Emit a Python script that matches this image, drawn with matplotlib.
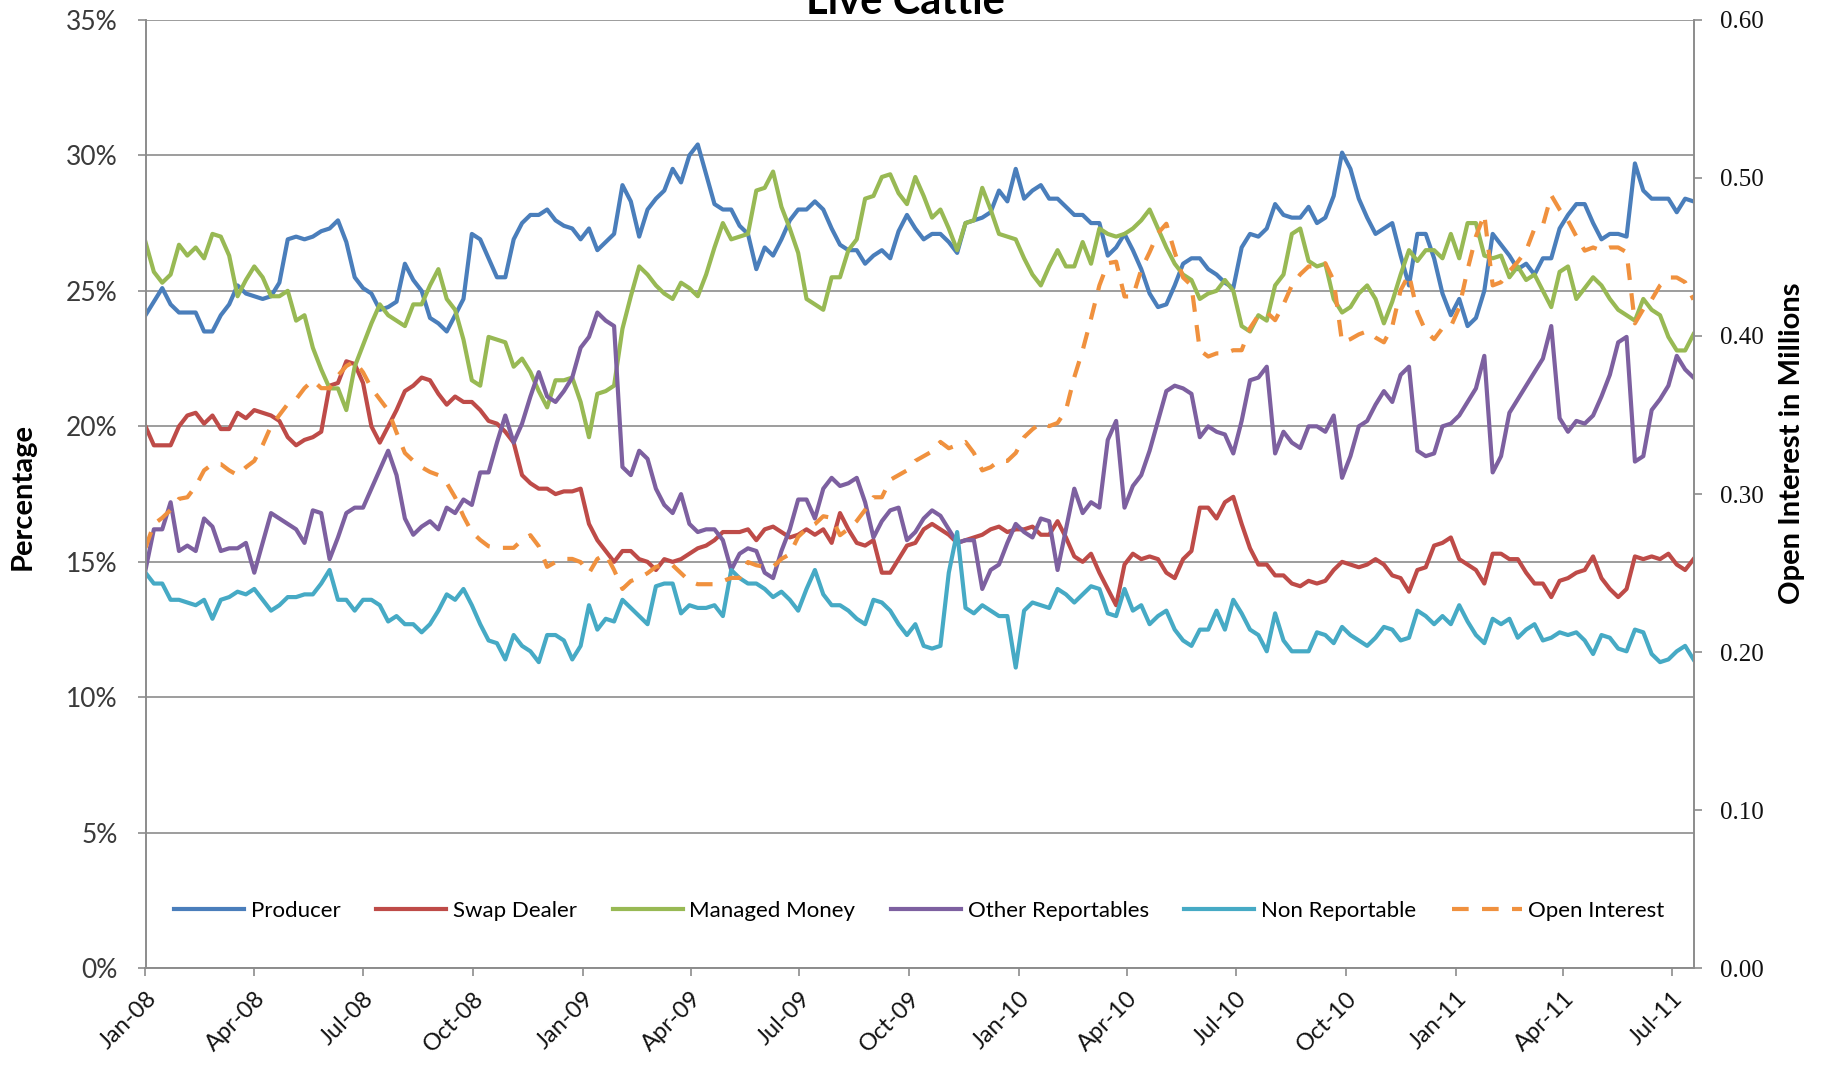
import matplotlib
matplotlib.use("Agg")
import matplotlib.pyplot as plt
import matplotlib.dates as mdates
from matplotlib.ticker import FuncFormatter, MultipleLocator
import pandas as pd

# ---------------- data (weekly, Tuesdays, from 2008-01-01) ----------------
start_date = "2008-01-01"

producer = [
    24.1, 24.6, 25.1, 24.5, 24.2, 24.2, 24.2, 23.5, 23.5, 24.1,
    24.5, 25.2, 24.9, 24.8, 24.7, 24.8, 25.3, 26.9, 27.0, 26.9,
    27.0, 27.2, 27.3, 27.6, 26.8, 25.5, 25.1, 24.9, 24.3, 24.4,
    24.6, 26.0, 25.4, 25.0, 24.0, 23.8, 23.5, 24.1, 24.7, 27.1,
    26.9, 26.2, 25.5, 25.5, 26.9, 27.5, 27.8, 27.8, 28.0, 27.6,
    27.4, 27.3, 26.9, 27.3, 26.5, 26.8, 27.1, 28.9, 28.3, 27.0,
    28.0, 28.4, 28.7, 29.5, 29.0, 30.0, 30.4, 29.3, 28.2, 28.0,
    28.0, 27.4, 27.1, 25.8, 26.6, 26.3, 26.9, 27.6, 28.0, 28.0,
    28.3, 28.0, 27.3, 26.7, 26.5, 26.5, 26.0, 26.3, 26.5, 26.2,
    27.2, 27.8, 27.3, 26.9, 27.1, 27.1, 26.8, 26.4, 27.5, 27.6,
    27.7, 27.9, 28.7, 28.3, 29.5, 28.4, 28.7, 28.9, 28.4, 28.4,
    28.1, 27.8, 27.8, 27.5, 27.5, 26.3, 26.6, 27.1, 26.5, 25.8,
    24.9, 24.4, 24.5, 25.2, 26.0, 26.2, 26.2, 25.8, 25.6, 25.3,
    25.1, 26.6, 27.1, 27.0, 27.3, 28.2, 27.8, 27.7, 27.7, 28.1,
    27.5, 27.7, 28.5, 30.1, 29.5, 28.4, 27.7, 27.1, 27.3, 27.5,
    26.3, 25.2, 27.1, 27.1, 26.2, 24.9, 24.1, 24.7, 23.7, 24.0,
    25.0, 27.1, 26.7, 26.3, 25.8, 26.0, 25.6, 26.2, 26.2, 27.3,
    27.8, 28.2, 28.2, 27.5, 26.9, 27.1, 27.1, 27.0, 29.7, 28.7,
    28.4, 28.4, 28.4, 27.9, 28.4, 28.3,
]

swap_dealer = [
    20.0, 19.3, 19.3, 19.3, 20.0, 20.4, 20.5, 20.1, 20.4, 19.9,
    19.9, 20.5, 20.3, 20.6, 20.5, 20.4, 20.2, 19.6, 19.3, 19.5,
    19.6, 19.8, 21.5, 21.6, 22.4, 22.3, 21.6, 20.0, 19.4, 20.0,
    20.6, 21.3, 21.5, 21.8, 21.7, 21.2, 20.8, 21.1, 20.9, 20.9,
    20.6, 20.2, 20.1, 19.8, 19.4, 18.2, 17.9, 17.7, 17.7, 17.5,
    17.6, 17.6, 17.7, 16.4, 15.8, 15.4, 15.0, 15.4, 15.4, 15.1,
    15.0, 14.7, 15.1, 15.0, 15.1, 15.3, 15.5, 15.6, 15.8, 16.1,
    16.1, 16.1, 16.2, 15.8, 16.2, 16.3, 16.1, 15.9, 16.0, 16.2,
    16.0, 16.2, 15.7, 16.8, 16.2, 15.7, 15.6, 15.8, 14.6, 14.6,
    15.1, 15.6, 15.7, 16.2, 16.4, 16.2, 16.0, 15.7, 15.8, 15.9,
    16.0, 16.2, 16.3, 16.1, 16.2, 16.2, 16.3, 16.0, 16.0, 16.5,
    15.9, 15.2, 15.0, 15.3, 14.6, 14.0, 13.4, 14.9, 15.3, 15.1,
    15.2, 15.1, 14.6, 14.4, 15.1, 15.4, 17.0, 17.0, 16.6, 17.2,
    17.4, 16.4, 15.5, 14.9, 14.9, 14.5, 14.5, 14.2, 14.1, 14.3,
    14.2, 14.3, 14.7, 15.0, 14.9, 14.8, 14.9, 15.1, 14.9, 14.5,
    14.4, 13.9, 14.7, 14.8, 15.6, 15.7, 15.9, 15.1, 14.9, 14.7,
    14.2, 15.3, 15.3, 15.1, 15.1, 14.6, 14.2, 14.2, 13.7, 14.3,
    14.4, 14.6, 14.7, 15.2, 14.4, 14.0, 13.7, 14.0, 15.2, 15.1,
    15.2, 15.1, 15.3, 14.9, 14.7, 15.1,
]

managed_money = [
    26.8, 25.7, 25.3, 25.6, 26.7, 26.3, 26.6, 26.2, 27.1, 27.0,
    26.3, 24.8, 25.4, 25.9, 25.5, 24.8, 24.8, 25.0, 23.9, 24.1,
    22.9, 22.1, 21.4, 21.4, 20.6, 22.2, 23.0, 23.8, 24.5, 24.1,
    23.9, 23.7, 24.5, 24.5, 25.2, 25.8, 24.7, 24.3, 23.2, 21.7,
    21.5, 23.3, 23.2, 23.1, 22.2, 22.5, 22.0, 21.3, 20.7, 21.7,
    21.7, 21.8, 20.9, 19.6, 21.2, 21.3, 21.5, 23.6, 24.8, 25.9,
    25.6, 25.2, 24.9, 24.7, 25.3, 25.1, 24.8, 25.6, 26.6, 27.5,
    26.9, 27.0, 27.1, 28.7, 28.8, 29.4, 28.1, 27.3, 26.4, 24.7,
    24.5, 24.3, 25.5, 25.5, 26.5, 26.9, 28.4, 28.5, 29.2, 29.3,
    28.6, 28.2, 29.2, 28.5, 27.7, 28.0, 27.3, 26.5, 27.5, 27.6,
    28.8, 28.0, 27.1, 27.0, 26.9, 26.2, 25.6, 25.2, 25.9, 26.5,
    25.9, 25.9, 26.8, 26.0, 27.3, 27.1, 27.0, 27.1, 27.3, 27.6,
    28.0, 27.3, 26.6, 26.0, 25.6, 25.4, 24.7, 24.9, 25.0, 25.4,
    25.0, 23.7, 23.5, 24.1, 23.9, 25.2, 25.6, 27.1, 27.3, 26.1,
    25.9, 26.0, 24.7, 24.2, 24.4, 24.9, 25.2, 24.7, 23.8, 24.6,
    25.6, 26.5, 26.1, 26.5, 26.5, 26.2, 27.1, 26.2, 27.5, 27.5,
    26.3, 26.2, 26.3, 25.5, 25.9, 25.4, 25.6, 25.0, 24.4, 25.7,
    25.9, 24.7, 25.1, 25.5, 25.2, 24.7, 24.3, 24.1, 23.9, 24.7,
    24.3, 24.1, 23.3, 22.8, 22.8, 23.4,
]

other_reportables = [
    14.7, 16.2, 16.2, 17.2, 15.4, 15.6, 15.4, 16.6, 16.3, 15.4,
    15.5, 15.5, 15.7, 14.6, 15.7, 16.8, 16.6, 16.4, 16.2, 15.7,
    16.9, 16.8, 15.1, 15.9, 16.8, 17.0, 17.0, 17.7, 18.4, 19.1,
    18.2, 16.6, 16.0, 16.3, 16.5, 16.2, 17.0, 16.8, 17.3, 17.1,
    18.3, 18.3, 19.4, 20.4, 19.4, 20.1, 21.1, 22.0, 21.1, 20.9,
    21.3, 21.8, 22.9, 23.3, 24.2, 23.9, 23.7, 18.5, 18.2, 19.1,
    18.8, 17.7, 17.1, 16.8, 17.5, 16.4, 16.1, 16.2, 16.2, 15.8,
    14.7, 15.3, 15.5, 15.4, 14.6, 14.4, 15.4, 16.2, 17.3, 17.3,
    16.6, 17.7, 18.1, 17.8, 17.9, 18.1, 17.2, 15.9, 16.5, 16.9,
    17.0, 15.8, 16.1, 16.6, 16.9, 16.7, 16.2, 15.7, 15.8, 15.8,
    14.0, 14.7, 14.9, 15.7, 16.4, 16.1, 15.9, 16.6, 16.5, 14.7,
    16.2, 17.7, 16.8, 17.2, 17.0, 19.5, 20.2, 17.0, 17.8, 18.2,
    19.1, 20.2, 21.3, 21.5, 21.4, 21.2, 19.6, 20.0, 19.8, 19.7,
    19.0, 20.2, 21.7, 21.8, 22.2, 19.0, 19.8, 19.4, 19.2, 20.0,
    20.0, 19.8, 20.4, 18.1, 18.9, 20.0, 20.2, 20.8, 21.3, 20.9,
    21.9, 22.2, 19.1, 18.9, 19.0, 20.0, 20.1, 20.4, 20.9, 21.4,
    22.6, 18.3, 18.9, 20.5, 21.0, 21.5, 22.0, 22.5, 23.7, 20.3,
    19.8, 20.2, 20.1, 20.4, 21.1, 21.9, 23.1, 23.3, 18.7, 18.9,
    20.6, 21.0, 21.5, 22.6, 22.1, 21.8,
]

non_reportable = [
    14.6, 14.2, 14.2, 13.6, 13.6, 13.5, 13.4, 13.6, 12.9, 13.6,
    13.7, 13.9, 13.8, 14.0, 13.6, 13.2, 13.4, 13.7, 13.7, 13.8,
    13.8, 14.2, 14.7, 13.6, 13.6, 13.2, 13.6, 13.6, 13.4, 12.8,
    13.0, 12.7, 12.7, 12.4, 12.7, 13.2, 13.8, 13.6, 14.0, 13.4,
    12.7, 12.1, 12.0, 11.4, 12.3, 11.9, 11.7, 11.3, 12.3, 12.3,
    12.1, 11.4, 11.9, 13.4, 12.5, 12.9, 12.8, 13.6, 13.3, 13.0,
    12.7, 14.1, 14.2, 14.2, 13.1, 13.4, 13.3, 13.3, 13.4, 13.0,
    14.7, 14.4, 14.2, 14.2, 14.0, 13.7, 13.9, 13.6, 13.2, 14.0,
    14.7, 13.8, 13.4, 13.4, 13.2, 12.9, 12.7, 13.6, 13.5, 13.2,
    12.7, 12.3, 12.7, 11.9, 11.8, 11.9, 14.6, 16.1, 13.3, 13.1,
    13.4, 13.2, 13.0, 13.0, 11.1, 13.2, 13.5, 13.4, 13.3, 14.0,
    13.8, 13.5, 13.8, 14.1, 14.0, 13.1, 13.0, 14.0, 13.2, 13.4,
    12.7, 13.0, 13.2, 12.5, 12.1, 11.9, 12.5, 12.5, 13.2, 12.5,
    13.6, 13.1, 12.5, 12.3, 11.7, 13.1, 12.1, 11.7, 11.7, 11.7,
    12.4, 12.3, 12.0, 12.6, 12.3, 12.1, 11.9, 12.2, 12.6, 12.5,
    12.1, 12.2, 13.2, 13.0, 12.7, 13.0, 12.7, 13.4, 12.8, 12.3,
    12.0, 12.9, 12.7, 12.9, 12.2, 12.5, 12.7, 12.1, 12.2, 12.4,
    12.3, 12.4, 12.1, 11.6, 12.3, 12.2, 11.8, 11.7, 12.5, 12.4,
    11.6, 11.3, 11.4, 11.7, 11.9, 11.4,
]

open_interest = [  # millions of contracts
    0.266, 0.281, 0.285, 0.290, 0.297, 0.298, 0.305, 0.315, 0.319, 0.319,
    0.315, 0.312, 0.317, 0.321, 0.331, 0.343, 0.350, 0.357, 0.360, 0.367,
    0.372, 0.367, 0.367, 0.375, 0.381, 0.384, 0.377, 0.367, 0.360, 0.353,
    0.339, 0.326, 0.321, 0.317, 0.314, 0.312, 0.307, 0.298, 0.286, 0.276,
    0.271, 0.267, 0.266, 0.266, 0.266, 0.271, 0.274, 0.267, 0.254, 0.257,
    0.259, 0.259, 0.257, 0.250, 0.259, 0.262, 0.252, 0.240, 0.245, 0.247,
    0.250, 0.254, 0.255, 0.255, 0.250, 0.245, 0.243, 0.243, 0.243, 0.245,
    0.247, 0.247, 0.257, 0.255, 0.254, 0.254, 0.259, 0.262, 0.273, 0.278,
    0.281, 0.286, 0.285, 0.274, 0.278, 0.283, 0.290, 0.298, 0.298, 0.309,
    0.312, 0.315, 0.321, 0.324, 0.327, 0.333, 0.329, 0.331, 0.333, 0.326,
    0.315, 0.317, 0.321, 0.321, 0.326, 0.336, 0.341, 0.345, 0.343, 0.345,
    0.353, 0.374, 0.391, 0.411, 0.432, 0.446, 0.447, 0.425, 0.425, 0.442,
    0.453, 0.465, 0.471, 0.453, 0.437, 0.432, 0.391, 0.387, 0.389, 0.389,
    0.391, 0.391, 0.405, 0.413, 0.415, 0.410, 0.420, 0.432, 0.439, 0.444,
    0.444, 0.446, 0.435, 0.396, 0.398, 0.401, 0.403, 0.399, 0.396, 0.406,
    0.429, 0.439, 0.415, 0.403, 0.398, 0.405, 0.406, 0.418, 0.442, 0.463,
    0.477, 0.432, 0.434, 0.441, 0.447, 0.454, 0.468, 0.470, 0.489, 0.480,
    0.473, 0.463, 0.454, 0.456, 0.454, 0.456, 0.456, 0.453, 0.408, 0.417,
    0.423, 0.432, 0.437, 0.437, 0.434, 0.423,
]

series_names = ["Producer", "Swap Dealer", "Managed Money",
                "Other Reportables", "Non Reportable"]
oi_name = "Open Interest"
title = "Live Cattle"

n = len(producer)
for s in (swap_dealer, managed_money, other_reportables, non_reportable, open_interest):
    assert len(s) == n, len(s)

dates = pd.date_range(start_date, periods=n, freq="7D")

# ---------------- styling ----------------
colors = ["#4A7EBB", "#BE4B48", "#98B954", "#7D60A0", "#46AAC5"]
oi_color = "#F0913E"
grid_color = "#8C8C8C"
FONT = ["Lato", "DejaVu Sans"]
plt.rcParams["font.family"] = FONT

fig = plt.figure(figsize=(18.25, 10.68), dpi=100)
ax = fig.add_axes([145.5 / 1825, 1 - 968.4 / 1068, 1548 / 1825, 948.6 / 1068])
ax2 = ax.twinx()

handles = []
for vals, name, c in zip([producer, swap_dealer, managed_money, other_reportables, non_reportable],
                         series_names, colors):
    h, = ax.plot(dates, vals, color=c, lw=3.0, label=name, solid_joinstyle="round")
    handles.append(h)

h_oi, = ax2.plot(dates, open_interest, color=oi_color, lw=3.0, label=oi_name,
                 dashes=(4.0, 3.2), dash_capstyle="butt")
handles.append(h_oi)

# left axis
ax.set_ylim(0, 35)
ax.yaxis.set_major_locator(MultipleLocator(5))
ax.yaxis.set_major_formatter(FuncFormatter(lambda v, p: f"{int(round(v))}%"))
ax.grid(axis="y", color=grid_color, lw=1.2)
ax.set_axisbelow(True)

# right axis
ax2.set_ylim(0, 0.6)
ax2.yaxis.set_major_locator(MultipleLocator(0.1))
ax2.yaxis.set_major_formatter(FuncFormatter(lambda v, p: f"{v:.2f}"))

# axis titles placed as in the reference
fig.text(23 / 1825, 1 - 497 / 1068, "Percentage", rotation=90, ha="center",
         va="center", fontsize=21, fontweight="bold")
fig.text(1792 / 1825, 1 - 443 / 1068, "Open Interest in Millions", rotation=90,
         ha="center", va="center", fontsize=21, fontweight="bold")

# x axis
ax.set_xlim(pd.Timestamp("2008-01-01"), dates[-1])
ax.xaxis.set_major_locator(mdates.MonthLocator(bymonth=[1, 4, 7, 10]))
ax.xaxis.set_major_formatter(mdates.DateFormatter("%b-%y"))
for lbl in ax.get_xticklabels():
    lbl.set_rotation(45)
    lbl.set_ha("right")
    lbl.set_rotation_mode("anchor")

for a in (ax, ax2):
    for sp in a.spines.values():
        sp.set_color(grid_color)
        sp.set_linewidth(1.2)
    a.tick_params(colors=grid_color, width=1.2, length=6)
ax.spines["top"].set_visible(False)
ax2.spines["top"].set_visible(False)

ax.tick_params(axis="y", labelsize=19, labelcolor="#3A3A3A", pad=14)
ax.tick_params(axis="x", labelsize=17, labelcolor="#111111", pad=8)
ax2.tick_params(axis="y", labelsize=18, labelcolor="#111111", pad=13)
for lbl in ax2.get_yticklabels():
    lbl.set_family(["Liberation Serif", "DejaVu Serif"])

# legend
leg = ax2.legend(handles=handles, loc="center", bbox_to_anchor=(0.5, 0.0605),
                 ncol=6, frameon=False, fontsize=16, handlelength=3.15,
                 columnspacing=1.6, handletextpad=0.3)

fig.text(905 / 1825, 1 - 14 / 1068, title, ha="center", va="baseline",
         fontsize=30, fontweight="bold")

fig.savefig("out.png", dpi=100)
